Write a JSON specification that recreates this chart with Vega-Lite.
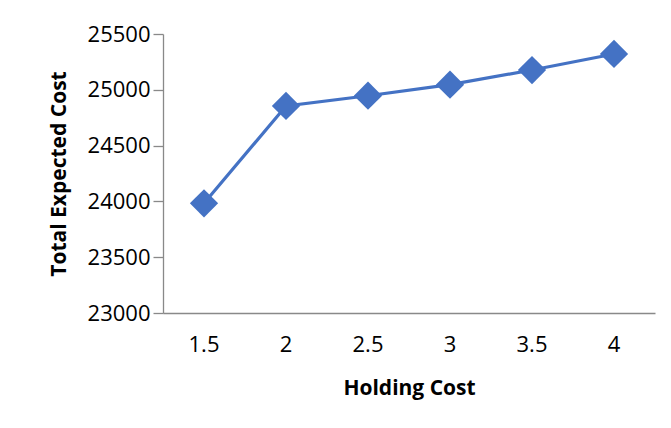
{
  "$schema": "https://vega.github.io/schema/vega-lite/v6.json",
  "autosize": {"type": "none"},
  "width": 492,
  "height": 279,
  "padding": {"left": 163, "top": 34, "right": 16, "bottom": 115},
  "background": "white",
  "config": {
    "view": {"stroke": null},
    "font": "Open Sans"
  },
  "data": {
    "values": [
      {"holding": "1.5", "cost": 23983},
      {"holding": "2", "cost": 24855},
      {"holding": "2.5", "cost": 24947},
      {"holding": "3", "cost": 25046},
      {"holding": "3.5", "cost": 25177},
      {"holding": "4", "cost": 25321}
    ]
  },
  "encoding": {
    "x": {
      "field": "holding",
      "type": "ordinal",
      "sort": null,
      "scale": {"type": "band", "paddingInner": 0, "paddingOuter": 0},
      "axis": {
        "title": "Holding Cost",
        "labelAngle": 0,
        "labelFont": "Open Sans",
        "labelFontSize": 22,
        "labelColor": "#000000",
        "labelPadding": 21,
        "ticks": false,
        "domainColor": "#898989",
        "domainWidth": 1.3,
        "titleFont": "Open Sans",
        "titleFontSize": 21,
        "titleFontWeight": "bold",
        "titleColor": "#000000",
        "titlePadding": 22
      }
    },
    "y": {
      "field": "cost",
      "type": "quantitative",
      "scale": {"domain": [23000, 25500], "nice": false, "zero": false},
      "axis": {
        "title": "Total Expected Cost",
        "values": [23000, 23500, 24000, 24500, 25000, 25500],
        "format": "d",
        "grid": false,
        "labelFont": "Open Sans",
        "labelFontSize": 22,
        "labelColor": "#000000",
        "labelPadding": 3,
        "tickSize": 10,
        "tickColor": "#898989",
        "tickWidth": 1.3,
        "domainColor": "#898989",
        "domainWidth": 1.3,
        "titleFont": "Open Sans",
        "titleFontSize": 21,
        "titleFontWeight": "bold",
        "titleColor": "#000000",
        "titlePadding": 18
      }
    }
  },
  "layer": [
    {"mark": {"type": "line", "color": "#4472C4", "strokeWidth": 3.2}},
    {"mark": {"type": "point", "shape": "diamond", "filled": true, "opacity": 1, "color": "#4472C4", "size": 800}}
  ]
}
